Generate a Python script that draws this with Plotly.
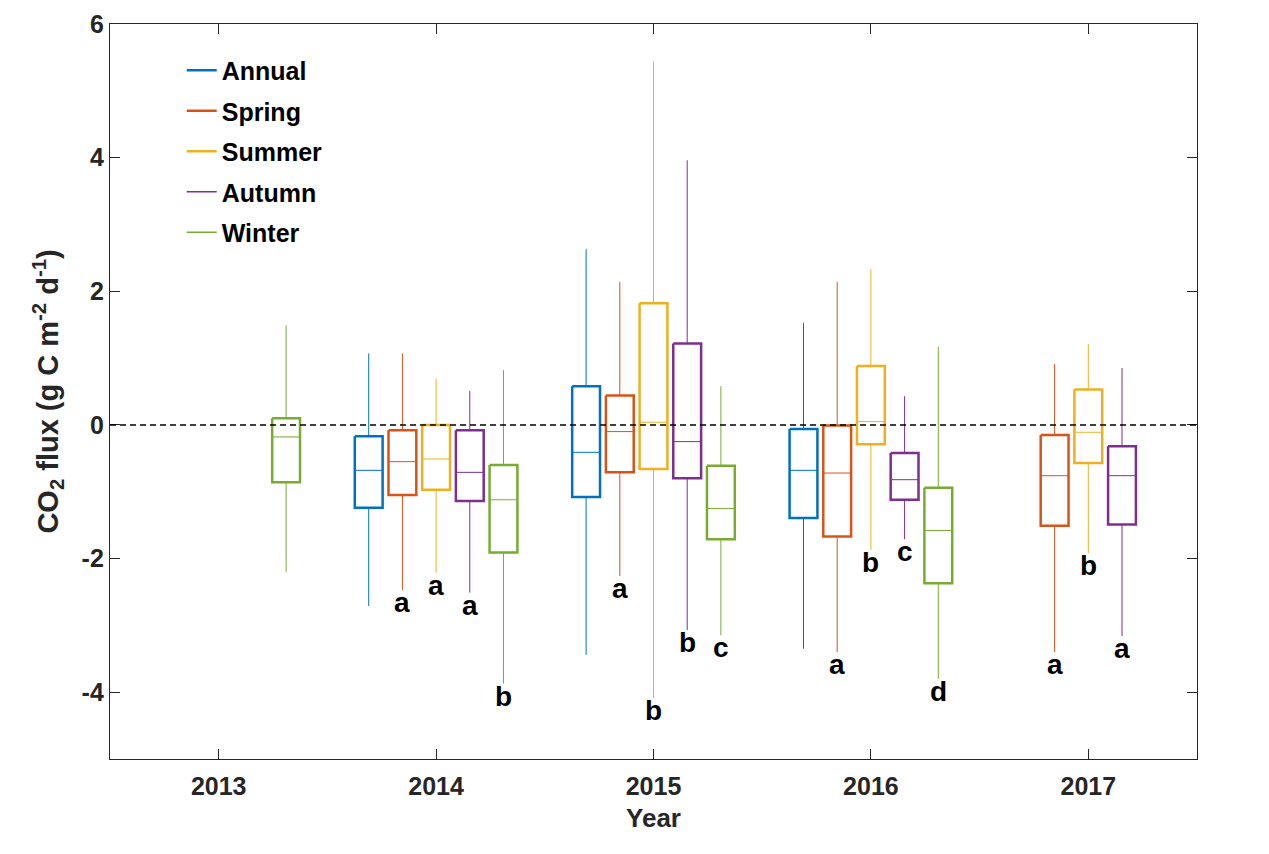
import plotly.graph_objects as go

years = [2013, 2014, 2015, 2016, 2017]
seasons = ["Annual", "Spring", "Summer", "Autumn", "Winter"]
colors = ["#0072BD", "#D95319", "#EDB120", "#7E2F8E", "#77AC30"]
offsets = [-0.31, -0.155, 0.0, 0.155, 0.31]
ytick_vals = [-4, -2, 0, 2, 4, 6]
ytick_text = ["-4", "-2", "0", "2", "4", "6"]

annual_upper = [None, 1.07, 2.63, 1.53, None]
annual_q3 = [None, -0.17, 0.58, -0.06, None]
annual_median = [None, -0.68, -0.41, -0.68, None]
annual_q1 = [None, -1.24, -1.08, -1.395, None]
annual_lower = [None, -2.71, -3.44, -3.35, None]
annual_letters = [None, None, None, None, None]

spring_upper = [None, 1.07, 2.14, 2.14, 0.91]
spring_q3 = [None, -0.08, 0.44, -0.01, -0.15]
spring_median = [None, -0.55, -0.10, -0.72, -0.76]
spring_q1 = [None, -1.05, -0.71, -1.67, -1.51]
spring_lower = [None, -2.47, -2.26, -3.40, -3.40]
spring_letters = [None, "a", "a", "a", "a"]

summer_upper = [None, 0.69, 5.44, 2.33, 1.21]
summer_q3 = [None, 0.0, 1.82, 0.88, 0.53]
summer_median = [None, -0.51, 0.04, 0.05, -0.11]
summer_q1 = [None, -0.97, -0.66, -0.29, -0.57]
summer_lower = [None, -2.21, -4.09, -1.87, -1.92]
summer_letters = [None, "a", "b", "b", "b"]

autumn_upper = [None, 0.51, 3.96, 0.43, 0.85]
autumn_q3 = [None, -0.08, 1.22, -0.42, -0.32]
autumn_median = [None, -0.71, -0.25, -0.82, -0.76]
autumn_q1 = [None, -1.14, -0.80, -1.12, -1.49]
autumn_lower = [None, -2.51, -3.07, -1.71, -3.16]
autumn_letters = [None, "a", "b", "c", "a"]

winter_upper = [1.49, 0.82, 0.58, 1.17, None]
winter_q3 = [0.10, -0.60, -0.61, -0.94, None]
winter_median = [-0.18, -1.12, -1.25, -1.58, None]
winter_q1 = [-0.86, -1.91, -1.71, -2.37, None]
winter_lower = [-2.20, -3.87, -3.15, -3.80, None]
winter_letters = [None, "b", "c", "d", None]

stats = [
    (annual_upper, annual_q3, annual_median, annual_q1, annual_lower, annual_letters),
    (spring_upper, spring_q3, spring_median, spring_q1, spring_lower, spring_letters),
    (summer_upper, summer_q3, summer_median, summer_q1, summer_lower, summer_letters),
    (autumn_upper, autumn_q3, autumn_median, autumn_q1, autumn_lower, autumn_letters),
    (winter_upper, winter_q3, winter_median, winter_q1, winter_lower, winter_letters),
]

half_w = 0.064
fig = go.Figure()
annotations = []

for name, color, off, (up, q3, med, q1, lo, let) in zip(seasons, colors, offsets, stats):
    bx, by, tx, ty = [], [], [], []
    for i, yr in enumerate(years):
        if q3[i] is None:
            continue
        xc = yr + off
        xl, xr = xc - half_w, xc + half_w
        bx += [xl, xr, xr, xl, xl, None]
        by += [q3[i], q3[i], q1[i], q1[i], q3[i], None]
        tx += [xc, xc, None, xc, xc, None, xl, xr, None]
        ty += [q3[i], up[i], None, q1[i], lo[i], None, med[i], med[i], None]
        if let[i]:
            annotations.append(dict(
                x=xc, y=lo[i], xref="x", yref="y", text=let[i], showarrow=False,
                yanchor="top", xanchor="center", yshift=5,
                font=dict(size=28, color="black", family="Arial, Liberation Sans", weight="bold")))
    fig.add_trace(go.Scatter(x=tx, y=ty, mode="lines", line=dict(color=color, width=1),
                             showlegend=False, hoverinfo="skip"))
    fig.add_trace(go.Scatter(x=bx, y=by, mode="lines", line=dict(color=color, width=2.5),
                             showlegend=False, hoverinfo="skip"))
    fig.add_trace(go.Scatter(x=[None], y=[None], mode="lines", name=name, legendgroup=name,
                             line=dict(color=color, width=2.5 if name in ("Annual", "Spring", "Summer") else 1.5)))

axis_col = "#262626"
fig.update_layout(
    width=1261, height=846,
    margin=dict(l=102, r=72, t=16, b=95),
    plot_bgcolor="white", paper_bgcolor="white",
    font=dict(family="Arial, Liberation Sans", color=axis_col),
    annotations=annotations,
    showlegend=True,
    legend=dict(x=0.066, y=0.968, xanchor="left", yanchor="top",
                font=dict(size=25, color="black", weight="bold"),
                bgcolor="rgba(0,0,0,0)", tracegroupgap=5, itemwidth=30),
    shapes=[dict(type="line", xref="paper", yref="y", x0=0, x1=1, y0=0, y1=0,
                 line=dict(color="black", width=1.5, dash="6px,4px"))],
)
fig.update_xaxes(range=[2012.5, 2017.5], tickvals=years, ticktext=[str(y) for y in years],
                 automargin=False, ticklabelstandoff=5,
                 showline=True, linecolor=axis_col, linewidth=1.3, mirror="ticks",
                 ticks="inside", ticklen=10, tickcolor=axis_col, showgrid=False, zeroline=False,
                 tickfont=dict(size=25, weight="bold", color=axis_col),
                 title=dict(text="Year", font=dict(size=26, weight="bold", color=axis_col), standoff=9))
fig.update_yaxes(range=[-5, 6], tickvals=ytick_vals, ticktext=ytick_text,
                 automargin=False,
                 showline=True, linecolor=axis_col, linewidth=1.3, mirror="ticks",
                 ticks="inside", ticklen=10, tickcolor=axis_col, showgrid=False, zeroline=False,
                 tickfont=dict(size=25, weight="bold", color=axis_col),
                 title=dict(text="CO<sub>2</sub> flux (g C m<sup>-2</sup> d<sup>-1</sup>)",
                            font=dict(size=29, weight="bold", color=axis_col), standoff=14))

fig.write_html("out.html")
